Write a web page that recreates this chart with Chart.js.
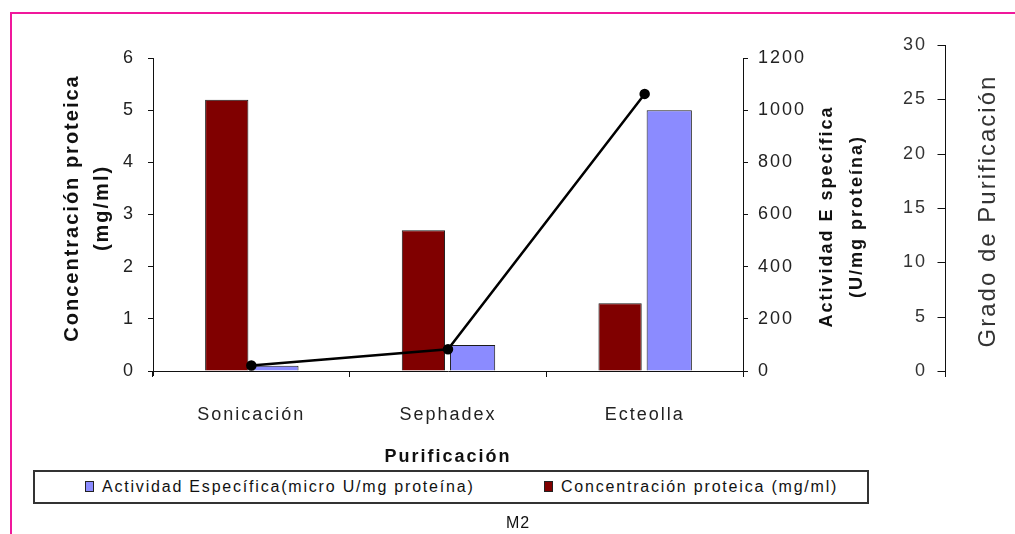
<!DOCTYPE html>
<html>
<head>
<meta charset="utf-8">
<script src="https://cdn.jsdelivr.net/npm/chart.js@4.4.1/dist/chart.umd.min.js"></script>
<style>
  body { margin: 0; background: #fff; width: 1015px; height: 534px; overflow: hidden; position: relative; font-family: "Liberation Sans", Arial, sans-serif; }
  #marco { position: absolute; left: 10px; top: 12px; right: -4px; bottom: -4px; border-top: 2px solid #f0189c; border-left: 2px solid #f0189c; }
  #grafico { position: absolute; left: 0; top: 0; }
  #leyenda { position: absolute; left: 33px; top: 470px; width: 832px; height: 30px; border: 2px solid #333; background: #fff; }
  #leyenda .item { position: absolute; top: 6px; font-size: 16px; color: #111; letter-spacing: 1.8px; white-space: nowrap; }
  #leyenda .cuadro { display: inline-block; width: 7px; height: 9px; border: 1px solid #222; margin-right: 8px; vertical-align: 0px; }
  #pie { position: absolute; left: 506px; top: 514px; font-size: 16px; letter-spacing: 1px; color: #111; }
</style>
</head>
<body>
<div id="marco"></div>
<canvas id="grafico" width="1015" height="534"></canvas>
<div id="leyenda"></div>
<div id="pie">M2</div>
<script>
const etapas = ['Sonicación', 'Sephadex', 'Ecteolla']
const concentracion = [5.2, 2.7, 1.3]        // mg/ml  (eje izquierdo)
const actividad = [20, 100, 1000]            // U/mg proteina (eje derecho)
const grado = [0.5, 2, 25.5]                 // grado de purificacion (tercer eje)

// marcas de los ejes
const ticksConc = [0, 1, 2, 3, 4, 5, 6]
const ticksAct = [0, 200, 400, 600, 800, 1000, 1200]
const ticksGrado = [0, 5, 10, 15, 20, 25, 30]

const tituloIzq = ['Concentración proteica', '(mg/ml)']
const tituloAct = ['Actividad E specífica', '(U/mg proteína)']
const tituloGrado = 'Grado de Purificación'

const fuente = '"Liberation Sans", Arial, sans-serif'
const negro = '#111'
const espacio = '2px'

/* el texto del original sale muy espaciado */
const espaciado = {
    id: 'espaciado',
    beforeLayout(chart) { chart.ctx.letterSpacing = espacio },
    beforeDraw(chart) { chart.ctx.letterSpacing = espacio }
}

/* lineas de ejes, eje del grado (a la derecha de sus numeros) y titulos rotados */
const ejes = {
    id: 'ejes',
    afterDraw(chart) {
        const { ctx, chartArea, scales: { y, y1, y2 } } = chart
        const base = y.getPixelForValue(0)
        const tope = y.getPixelForValue(ticksConc[ticksConc.length - 1])
        const xGrado = y2.right + 18.5
        ctx.save()
        ctx.strokeStyle = negro
        ctx.lineWidth = 1
        ctx.beginPath()
        ctx.moveTo(chartArea.left + 0.5, tope)
        ctx.lineTo(chartArea.left + 0.5, base + 5)
        ctx.moveTo(chartArea.right + 0.5, tope)
        ctx.lineTo(chartArea.right + 0.5, base + 5)
        ctx.moveTo(xGrado, y2.getPixelForValue(ticksGrado[ticksGrado.length - 1]))
        ctx.lineTo(xGrado, base + 6)
        ticksGrado.forEach(v => {
            const py = Math.round(y2.getPixelForValue(v)) + 0.5
            ctx.moveTo(xGrado - 8, py)
            ctx.lineTo(xGrado, py)
        })
        ctx.stroke()

        ctx.fillStyle = negro
        ctx.textAlign = 'center'
        ctx.textBaseline = 'middle'
        const centro = (base + tope) / 2
        ctx.font = 'bold 18px ' + fuente
        tituloAct.forEach((t, i) => {
            ctx.save()
            ctx.translate(chartArea.right + 84 + i * 30, centro + 2)
            ctx.rotate(-Math.PI / 2)
            ctx.fillText(t, 0, 0)
            ctx.restore()
        })
        ctx.font = '24px ' + fuente
        ctx.fillStyle = '#333'
        ctx.translate(xGrado + 43, (chartArea.top + chartArea.bottom) / 2 + 3)
        ctx.rotate(-Math.PI / 2)
        ctx.fillText(tituloGrado, 0, 0)
        ctx.restore()
    }
}

const fijarTicks = valores => s => { s.ticks = valores.map(v => ({ value: v })) }
const sinComa = v => String(v)

const grafico = new Chart(document.querySelector('#grafico'), {
    type: 'bar',
    data: {
        labels: etapas,
        datasets: [{
            type: 'line',
            label: tituloGrado,
            data: grado,
            yAxisID: 'y2',
            order: -1,
            borderColor: '#000',
            borderWidth: 2.5,
            pointRadius: 4,
            pointBackgroundColor: '#000',
            pointBorderColor: '#000',
            tension: 0
        }, {
            label: 'Concentración proteica (mg/ml)',
            data: concentracion,
            yAxisID: 'y',
            order: 0,
            backgroundColor: '#800000',
            borderColor: '#1a1a1a',
            borderWidth: 1,
            categoryPercentage: 0.5,
            barPercentage: 0.88
        }, {
            label: 'Actividad Específica(micro U/mg proteína)',
            data: actividad,
            yAxisID: 'y1',
            order: 1,
            backgroundColor: '#8b8bff',
            borderColor: '#1a1a1a',
            borderWidth: 1,
            categoryPercentage: 0.5,
            barPercentage: 0.92
        }]
    },
    options: {
        responsive: false,
        animation: false,
        layout: { padding: { left: 0, right: 88, top: 45, bottom: 63 } },
        plugins: { legend: { display: false }, tooltip: { enabled: false } },
        scales: {
            x: {
                afterFit: s => { s.height = 100 },
                grid: { offset: true, drawOnChartArea: false, tickLength: 6, color: negro },
                border: { color: negro },
                ticks: { color: '#222', padding: 27, font: { family: fuente, size: 18 } },
                title: {
                    display: true, text: 'Purificación', color: negro,
                    font: { family: fuente, size: 18, weight: 'bold' },
                    padding: { top: 0, bottom: 3 }
                }
            },
            y: {
                position: 'left',
                min: 0, max: 6.25,
                afterFit: s => { s.width = 153 },
                afterBuildTicks: fijarTicks(ticksConc),
                grid: { drawOnChartArea: false, tickLength: 5, color: negro },
                border: { display: false },
                ticks: { color: '#222', padding: 13, font: { family: fuente, size: 18 } },
                title: {
                    display: true, text: tituloIzq, color: negro,
                    font: { family: fuente, size: 20, weight: 'bold', lineHeight: '30px' },
                    padding: { top: 57, bottom: 0 }
                }
            },
            y1: {
                position: 'right',
                weight: 0,
                min: 0, max: 1250,
                afterFit: s => { s.width = 140 },
                afterBuildTicks: fijarTicks(ticksAct),
                grid: { drawOnChartArea: false, tickLength: 5, color: negro },
                border: { display: false },
                ticks: { callback: sinComa, color: '#222', padding: 10, font: { family: fuente, size: 18 } }
            },
            y2: {
                position: 'right',
                weight: 1,
                min: 0, max: 30,
                afterFit: s => { s.width = 44 },
                afterBuildTicks: fijarTicks(ticksGrado),
                grid: { display: false },
                border: { display: false },
                ticks: { crossAlign: 'far', color: '#333', font: { family: fuente, size: 18 } }
            }
        }
    },
    plugins: [espaciado, ejes]
})

/* leyenda en html a partir de las barras */
const leyenda = document.querySelector('#leyenda')
const posiciones = [50, 509]
grafico.data.datasets.filter(d => d.type !== 'line').reverse().forEach((d, i) => {
    const item = document.createElement('span')
    item.className = 'item'
    item.style.left = posiciones[i] + 'px'
    item.innerHTML = `<span class="cuadro" style="background:${d.backgroundColor}"></span>${d.label}`
    leyenda.appendChild(item)
})
</script>
</body>
</html>
